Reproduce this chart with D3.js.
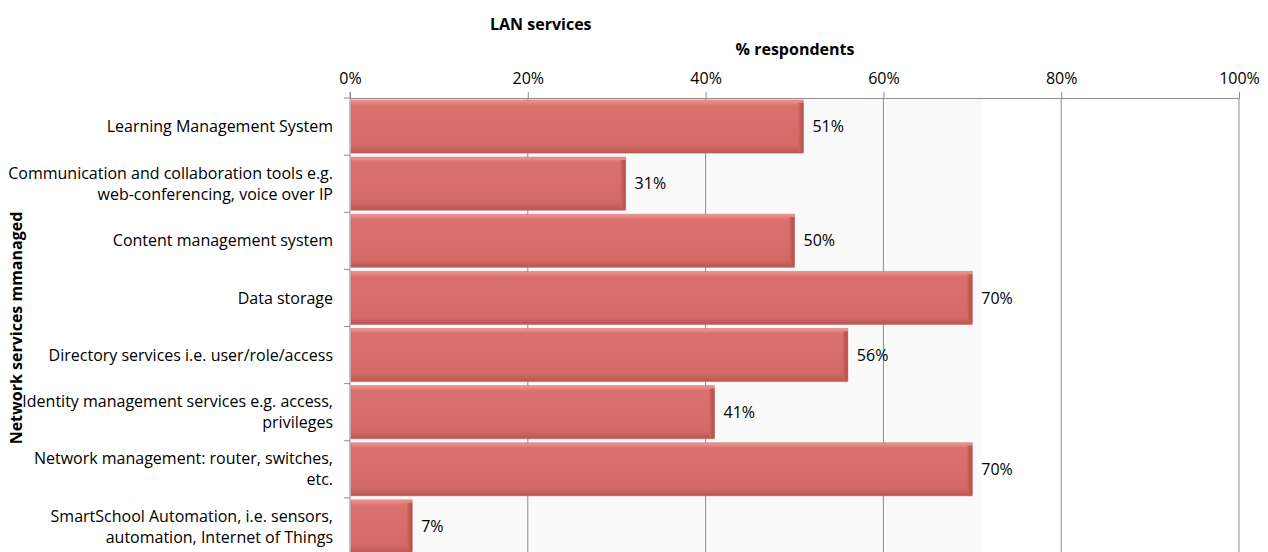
<!DOCTYPE html>
<html>
<head>
<meta charset="utf-8">
<script src="https://cdn.jsdelivr.net/npm/d3@7"></script>
<style>
  html, body { margin: 0; padding: 0; background: #fff; }
  svg { display: block; font-family: "Open Sans", Lato, sans-serif; }
</style>
</head>
<body>
<svg id="chart" width="1268" height="552"></svg>
<script>
// Survey categories (multi-line labels split on "\n")
const categories = [
  "Learning Management System",
  "Communication and collaboration tools e.g.\nweb-conferencing, voice over IP",
  "Content management system",
  "Data storage",
  "Directory services i.e. user/role/access",
  "Identity management services e.g. access,\nprivileges",
  "Network management: router, switches,\netc.",
  "SmartSchool Automation, i.e. sensors,\nautomation, Internet of Things"
];
// Share of respondents (%)
const values = [51, 31, 50, 70, 56, 41, 70, 7];
// Axis ticks (%)
const tickValues = [0, 20, 40, 60, 80, 100];

const svg = d3.select("#chart");
const plotLeft = 350, plotRight = 1239, plotTop = 98, plotBottom = 555;
const fontSize = 16;

const x = d3.scaleLinear().domain([0, 100]).range([plotLeft, plotRight]);
const y = d3.scaleBand().domain(categories).range([plotTop, plotBottom]).paddingInner(0.07).paddingOuter(0.035);

// gradients for the bevelled bars
const defs = svg.append("defs");
const gMain = defs.append("linearGradient").attr("id", "barFill").attr("x1", 0).attr("y1", 0).attr("x2", 0).attr("y2", 1);
gMain.append("stop").attr("offset", "0%").attr("stop-color", "#ee9a95");
gMain.append("stop").attr("offset", "10%").attr("stop-color", "#da716c");
gMain.append("stop").attr("offset", "85%").attr("stop-color", "#d46a66");
gMain.append("stop").attr("offset", "100%").attr("stop-color", "#b95652");
const gRight = defs.append("linearGradient").attr("id", "barEdge").attr("x1", 0).attr("y1", 0).attr("x2", 1).attr("y2", 0);
gRight.append("stop").attr("offset", "0%").attr("stop-color", "#d06662");
gRight.append("stop").attr("offset", "100%").attr("stop-color", "#b04e4a");

// faint backdrop behind bars
svg.append("rect")
  .attr("x", x(0)).attr("y", plotTop)
  .attr("width", x(d3.max(values)) - x(0) + 10)
  .attr("height", plotBottom - plotTop)
  .attr("fill", "#fafafa");

// vertical gridlines
svg.append("g").selectAll("line")
  .data(tickValues.slice(1))
  .join("line")
  .attr("x1", d => x(d)).attr("x2", d => x(d))
  .attr("y1", plotTop).attr("y2", plotBottom)
  .attr("stroke", "#8c8c8c").attr("stroke-width", 1);

// top axis
const xAxis = d3.axisTop(x).tickValues(tickValues).tickFormat(d => d + "%").tickSize(6).tickPadding(8);
const gx = svg.append("g").attr("transform", `translate(0,${plotTop})`).call(xAxis);
gx.select(".domain").attr("stroke", "#8c8c8c");
gx.selectAll(".tick line").attr("stroke", "#8c8c8c");
gx.selectAll(".tick text").attr("font-size", fontSize).attr("fill", "#000").attr("font-family", "'Open Sans', sans-serif");

// left axis line and category boundary ticks
svg.append("line").attr("x1", plotLeft).attr("x2", plotLeft).attr("y1", plotTop - 6).attr("y2", plotBottom).attr("stroke", "#8c8c8c");
const bounds = categories.map(c => y(c) - y.step() * y.paddingInner() / 2);
svg.append("g").selectAll("line").data(bounds).join("line")
  .attr("x1", plotLeft - 6).attr("x2", plotLeft)
  .attr("y1", d => d).attr("y2", d => d)
  .attr("stroke", "#8c8c8c");

// bars
const bars = svg.append("g").selectAll("g").data(categories).join("g");
const edge = 5;
bars.append("rect")
  .attr("x", x(0) + 1).attr("y", c => y(c))
  .attr("width", (c, i) => x(values[i]) - x(0) - 1)
  .attr("height", y.bandwidth())
  .attr("fill", "url(#barFill)");
bars.append("rect")
  .attr("x", (c, i) => x(values[i]) - edge).attr("y", c => y(c) + 3)
  .attr("width", edge)
  .attr("height", y.bandwidth() - 5)
  .attr("fill", "url(#barEdge)");
bars.append("rect")
  .attr("x", x(0) + 1).attr("y", c => y(c))
  .attr("width", (c, i) => x(values[i]) - x(0) - 1)
  .attr("height", y.bandwidth())
  .attr("fill", "none")
  .attr("stroke", "#c96561").attr("stroke-opacity", 0.5);

// value labels
svg.append("g").selectAll("text").data(categories).join("text")
  .attr("x", (c, i) => x(values[i]) + 9)
  .attr("y", c => y(c) + y.bandwidth() / 2)
  .attr("dy", "0.35em")
  .attr("font-size", fontSize)
  .text((c, i) => values[i] + "%");

// category labels
const labels = svg.append("g").selectAll("text").data(categories).join("text")
  .attr("text-anchor", "end")
  .attr("font-size", fontSize)
  .attr("fill", "#000")
  .attr("transform", c => `translate(333,${y(c) + y.bandwidth() / 2})`);
labels.each(function(c) {
  const lines = c.split("\n");
  const t = d3.select(this);
  lines.forEach((ln, k) => {
    t.append("tspan")
      .attr("x", 0)
      .attr("y", (k - (lines.length - 1) / 2) * 21)
      .attr("dy", "0.35em")
      .text(ln);
  });
});

// titles
svg.append("text").attr("x", 490).attr("y", 30).attr("font-size", fontSize).attr("font-weight", "bold").text("LAN services");
svg.append("text").attr("x", 795).attr("y", 55).attr("text-anchor", "middle").attr("font-size", fontSize).attr("font-weight", "bold").text("% respondents");
svg.append("text")
  .attr("transform", "translate(22,328) rotate(-90)")
  .attr("text-anchor", "middle")
  .attr("font-size", fontSize).attr("font-weight", "bold")
  .text("Network services mmanaged");
</script>
</body>
</html>
